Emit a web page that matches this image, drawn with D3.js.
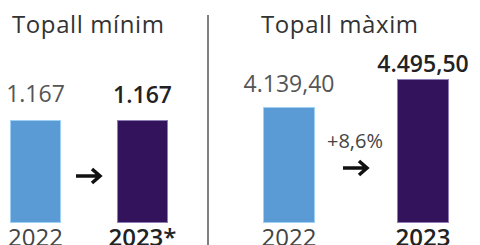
<!DOCTYPE html>
<html>
<head>
<meta charset="utf-8">
<script src="https://cdn.jsdelivr.net/npm/d3@7"></script>
<style>
  body { margin: 0; background: #fff; }
  svg { display: block; font-family: "Open Sans", sans-serif; }
</style>
</head>
<body>
<svg id="chart" width="480" height="245"></svg>
<script>
// data
var panelTitles = ["Topall mínim", "Topall màxim"];
var minYears = ["2022", "2023*"];
var maxYears = ["2022", "2023"];
var minValues = [1167, 1167];
var maxValues = [4139.40, 4495.50];
var minLabels = ["1.167", "1.167"];
var maxLabels = ["4.139,40", "4.495,50"];
var maxChange = "+8,6%";

var svg = d3.select("#chart");
var colors = ["#5b9bd5", "#33135c"];
var strokes = ["#9fd0f5", "#8d7fb5"];
var baseY = 222;

// layout of each panel
var panels = [
  { title: panelTitles[0], titleX: 12, years: minYears, values: minValues, labels: minLabels,
    xr: [10, 168], pad: 0.523, domain: [0, 1167], top: 120, gaps: [18, 17], arrow: [76, 100, 176], change: null },
  { title: panelTitles[1], titleX: 261, years: maxYears, values: maxValues, labels: maxLabels,
    xr: [263, 449], pad: 0.612, domain: [2676, 4495.5], top: 79, gaps: [15, 7], arrow: [343, 367, 168], change: maxChange }
];

panels.forEach(function(p) {
  var g = svg.append("g");

  var x = d3.scaleBand()
    .domain(p.years)
    .range(p.xr)
    .paddingInner(p.pad)
    .paddingOuter(0);

  var y = d3.scaleLinear()
    .domain(p.domain)
    .range([baseY, p.top]);

  g.append("text")
    .attr("x", p.titleX)
    .attr("y", 33)
    .attr("font-size", 24)
    .attr("font-weight", 500)
    .attr("letter-spacing", 0.6)
    .attr("fill", "#333")
    .text(p.title);

  g.selectAll("rect")
    .data(p.values)
    .enter()
    .append("rect")
    .attr("x", (d, i) => x(p.years[i]) + 0.5)
    .attr("y", d => y(d) + 0.5)
    .attr("width", x.bandwidth() - 1)
    .attr("height", d => baseY - y(d))
    .attr("fill", (d, i) => colors[i])
    .attr("stroke", (d, i) => strokes[i])
    .attr("stroke-width", 1);

  g.selectAll(".val")
    .data(p.values)
    .enter()
    .append("text")
    .attr("class", "val")
    .attr("x", (d, i) => x(p.years[i]) + x.bandwidth() / 2)
    .attr("y", (d, i) => y(d) - p.gaps[i])
    .attr("text-anchor", "middle")
    .attr("font-size", 23)
    .attr("font-weight", (d, i) => i == 1 ? 600 : 400)
    .attr("fill", (d, i) => i == 1 ? "#222" : "#555")
    .text((d, i) => p.labels[i]);

  g.selectAll(".yr")
    .data(p.years)
    .enter()
    .append("text")
    .attr("class", "yr")
    .attr("x", d => x(d) + x.bandwidth() / 2)
    .attr("y", 246)
    .attr("text-anchor", "middle")
    .attr("font-size", 24)
    .attr("font-weight", (d, i) => i == 1 ? 600 : 400)
    .attr("fill", (d, i) => i == 1 ? "#222" : "#444")
    .text(d => d);

  var a = p.arrow;
  g.append("path")
    .attr("d", `M${a[0]},${a[2]}L${a[1] - 1},${a[2]}M${a[1] - 8},${a[2] - 7}L${a[1]},${a[2]}L${a[1] - 8},${a[2] + 7}`)
    .attr("fill", "none")
    .attr("stroke", "#111")
    .attr("stroke-width", 3.5)
    .attr("stroke-linejoin", "miter");

  if (p.change) {
    g.append("text")
      .attr("x", (a[0] + a[1]) / 2)
      .attr("y", 148)
      .attr("text-anchor", "middle")
      .attr("font-size", 20)
      .attr("font-weight", 500)
      .attr("fill", "#444")
      .text(p.change);
  }
});

// divider
svg.append("line")
  .attr("x1", 208).attr("x2", 208)
  .attr("y1", 15).attr("y2", 245)
  .attr("stroke", "#555")
  .attr("stroke-width", 1.5);
</script>
</body>
</html>
